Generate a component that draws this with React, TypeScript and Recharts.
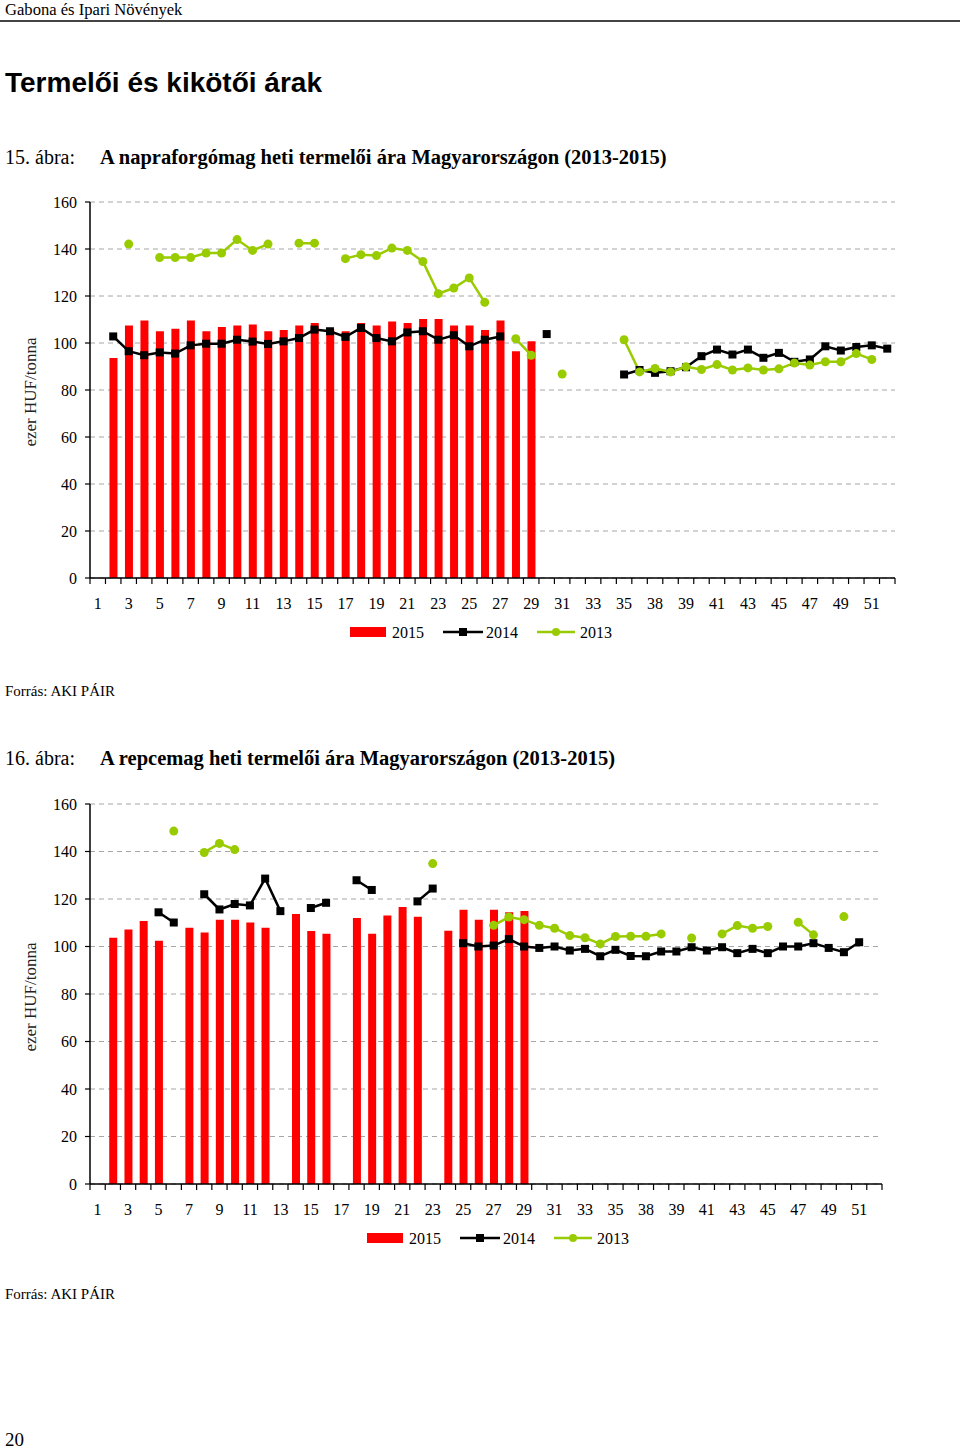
import React from 'react';
import { ComposedChart, Bar, Line, XAxis, YAxis, CartesianGrid } from 'recharts';

// week labels as printed under the axis (the source skips 37 and repeats 38)
const weeks = [
  '1', '2', '3', '4', '5', '6', '7', '8', '9', '10', '11', '12', '13', '14', '15', '16', '17', '18',
  '19', '20', '21', '22', '23', '24', '25', '26', '27', '28', '29', '30', '31', '32', '33', '34', '35',
  '36', '38', '38', '39', '40', '41', '42', '43', '44', '45', '46', '47', '48', '49', '50', '51', '52',
];

const yTicks = [0, 20, 40, 60, 80, 100, 120, 140, 160];

// 15. ábra – napraforgómag (ezer HUF/tonna)
const sun2015 = [
  null, 93.6, 107.4, 109.6, 105, 106.1, 109.6, 105, 106.8, 107.4, 107.9, 105, 105.5, 107.4, 108.5,
  105.8, 105, 108.5, 107.4, 109.1, 108.5, 110.2, 110.2, 107.4, 107.4, 105.5, 109.6, 96.5, 100.7,
  null, null, null, null, null, null, null, null, null, null, null, null, null, null, null, null,
  null, null, null, null, null, null, null,
];
const sun2014 = [
  null, 102.8, 96.5, 94.8, 96, 95.5, 99, 99.7, 99.7, 101.4, 100.6, 99.6, 100.7, 102.1, 105.7, 105,
  102.6, 106.4, 102.1, 100.7, 104.5, 105, 101.4, 103.3, 98.6, 101.4, 102.8, null, null, 103.8, null,
  null, null, null, 86.6, 88.5, 87.3, 88, 89.7, 94.4, 97.2, 95.1, 97.2, 93.7, 95.8, 92, 93, 98.6,
  96.8, 98.3, 99, 97.6,
];
const sun2013 = [
  null, null, 142.1, null, 136.4, 136.4, 136.4, 138.3, 138.3, 144, 139.4, 142.1, null, 142.5, 142.5,
  null, 135.9, 137.6, 137.2, 140.4, 139.4, 134.7, 121, 123.4, 127.7, 117.3, null, 101.8, 94.8, null,
  86.8, null, null, null, 101.4, 87.7, 89.2, 87.7, 89.9, 88.7, 90.8, 88.5, 89.4, 88.5, 89, 91.5, 90.6,
  92, 92, 95.5, 93, null,
];

// 16. ábra – repcemag (ezer HUF/tonna)
const rape2015 = [
  null, 103.7, 107.2, 110.7, 102.4, null, 107.9, 105.9, 111.3, 111.3, 110.1, 107.9, null, 113.7,
  106.5, 105.4, null, 112, 105.4, 113.1, 116.6, 112.5, null, 106.6, 115.5, 111.3, 115.5, 114.4, 114.9,
  null, null, null, null, null, null, null, null, null, null, null, null, null, null, null, null,
  null, null, null, null, null, null, null,
];
const rape2014 = [
  null, null, null, null, 114.4, 110.1, null, 122, 115.6, 117.9, 117.3, 128.6, 114.9, null, 116.2,
  118.4, null, 127.9, 123.8, null, null, 119, 124.4, null, 101.4, 100, 100.4, 103.1, 100, 99.4, 100,
  98.3, 99, 95.9, 98.6, 96, 95.9, 97.9, 97.9, 99.7, 98.3, 99.7, 97.2, 99, 97.2, 100, 100, 101.4, 99.4,
  97.6, 101.8, null,
];
const rape2013 = [
  null, null, null, null, null, 148.6, null, 139.6, 143.4, 140.8, null, null, null, null, null, null,
  null, null, null, null, null, null, 134.9, null, null, null, 108.9, 112.4, 111.3, 108.9, 107.7,
  104.6, 103.7, 101.1, 104.2, 104.3, 104.3, 105.3, null, 103.6, null, 105.3, 108.8, 107.7, 108.4,
  null, 110.2, 104.9, null, 112.6, null, null,
];

const RED = '#ff0000';
const GREEN = '#99cc00';
const SERIF = '"Liberation Serif", "Times New Roman", serif';

const buildRows = (a: (number | null)[], b: (number | null)[], c: (number | null)[]) =>
  weeks.map((w, i) => ({ week: w, y2015: a[i], y2014: b[i], y2013: c[i] }));

const sunRows = buildRows(sun2015, sun2014, sun2013);
const rapeRows = buildRows(rape2015, rape2014, rape2013);

const squareDot = (props: any) => {
  const { cx, cy, index } = props;
  if (cx == null || cy == null || props.value == null) return <g key={'s' + index} />;
  return <rect key={'s' + index} x={cx - 4} y={cy - 4} width={8} height={8} fill="#000" />;
};

const roundDot = (props: any) => {
  const { cx, cy, index } = props;
  if (cx == null || cy == null || props.value == null) return <g key={'c' + index} />;
  return <circle key={'c' + index} cx={cx} cy={cy} r={4.5} fill={GREEN} />;
};

// tick marks sit between the weeks, labels on every second week
const makeTick = (band: number) => (props: any) => {
  const { x, y, payload, index } = props;
  const last = index === weeks.length - 1;
  return (
    <g>
      <line x1={x - band / 2} x2={x - band / 2} y1={y} y2={y + 6} stroke="#000" strokeWidth={1.2} />
      {last && <line x1={x + band / 2} x2={x + band / 2} y1={y} y2={y + 6} stroke="#000" strokeWidth={1.2} />}
      {index % 2 === 0 && (
        <text x={x} y={y + 31} textAnchor="middle" fontSize={16} fontFamily={SERIF} fill="#000">
          {payload.value}
        </text>
      )}
    </g>
  );
};

interface PriceChartProps {
  rows: any[];
  top: number;
  height: number;
  marginTop: number;
  marginRight: number;
}

const PriceChart: React.FC<PriceChartProps> = ({ rows, top, height, marginTop, marginRight }) => {
  const width = 960;
  const left = 90;
  const band = (width - marginRight - left) / weeks.length;
  return (
    <div style={{ position: 'absolute', left: 0, top }}>
      <ComposedChart
        width={width}
        height={height}
        data={rows}
        barCategoryGap={0}
        margin={{ top: marginTop, right: marginRight, left: 40, bottom: 0 }}
      >
        <CartesianGrid vertical={false} stroke="#a6a6a6" strokeDasharray="5 4" />
        <XAxis
          dataKey="week"
          height={52}
          interval={0}
          tickSize={0}
          tickMargin={0}
          tickLine={false}
          axisLine={{ stroke: '#000', strokeWidth: 1.5 }}
          tick={makeTick(band)}
        />
        <YAxis
          width={50}
          domain={[0, 160]}
          ticks={yTicks}
          interval={0}
          tickSize={5}
          tickMargin={8}
          axisLine={{ stroke: '#000', strokeWidth: 1.5 }}
          tickLine={{ stroke: '#000', strokeWidth: 1.2 }}
          tick={{ fontSize: 16, fontFamily: SERIF, fill: '#000' }}
        />
        <Bar dataKey="y2015" fill={RED} barSize={8} isAnimationActive={false} />
        <Line
          dataKey="y2014"
          stroke="#000"
          strokeWidth={2.5}
          dot={squareDot}
          activeDot={false}
          isAnimationActive={false}
        />
        <Line
          dataKey="y2013"
          stroke={GREEN}
          strokeWidth={2.5}
          dot={roundDot}
          activeDot={false}
          isAnimationActive={false}
        />
      </ComposedChart>
    </div>
  );
};

const LegendRow: React.FC<{ left: number; top: number }> = ({ left, top }) => (
  <svg style={{ position: 'absolute', left, top }} width={300} height={22}>
    <rect x={10} y={5} width={36} height={10} fill={RED} />
    <text x={52} y={15.5} fontSize={16} fontFamily={SERIF}>2015</text>
    <line x1={103} x2={143} y1={10} y2={10} stroke="#000" strokeWidth={2.5} />
    <rect x={119} y={6} width={8} height={8} fill="#000" />
    <text x={146} y={15.5} fontSize={16} fontFamily={SERIF}>2014</text>
    <line x1={197} x2={235} y1={10} y2={10} stroke={GREEN} strokeWidth={2.5} />
    <circle cx={216} cy={10} r={4} fill={GREEN} />
    <text x={240} y={15.5} fontSize={16} fontFamily={SERIF}>2013</text>
  </svg>
);

const YLabel: React.FC<{ y: number }> = ({ y }) => (
  <div
    style={{
      position: 'absolute',
      left: 30,
      top: y,
      transform: 'translate(-50%, -50%) rotate(-90deg)',
      whiteSpace: 'nowrap',
      fontSize: 17,
      lineHeight: '17px',
      color: '#222',
    }}
  >
    ezer HUF/tonna
  </div>
);

const txt = (top: number, left: number, size: number, extra: React.CSSProperties = {}) => ({
  position: 'absolute' as const,
  top,
  left,
  fontSize: size,
  lineHeight: size + 'px',
  whiteSpace: 'nowrap' as const,
  ...extra,
});

export default function App() {
  return (
    <div
      style={{
        position: 'absolute',
        left: 0,
        top: 0,
        width: 960,
        height: 1451,
        background: '#fff',
        fontFamily: SERIF,
        color: '#000',
        overflow: 'hidden',
      }}
    >
      <div style={txt(1.5, 5, 16.6)}>Gabona és Ipari Növények</div>
      <div style={{ position: 'absolute', left: 0, top: 20, width: 960, height: 1.5, background: '#444' }} />
      <div style={txt(69, 5, 28, { fontFamily: '"Liberation Sans", Arial, sans-serif', fontWeight: 700 })}>
        Termelői és kikötői árak
      </div>

      <div style={txt(147, 5, 20)}>15. ábra:</div>
      <div style={txt(147, 100, 20.5, { fontWeight: 700 })}>
        A napraforgómag heti termelői ára Magyarországon (2013-2015)
      </div>
      <YLabel y={392} />
      <PriceChart rows={sunRows} top={190} height={440} marginTop={12} marginRight={65} />
      <LegendRow left={340} top={622} />
      <div style={txt(684, 5, 15)}>Forrás: AKI PÁIR</div>

      <div style={txt(748, 5, 20)}>16. ábra:</div>
      <div style={txt(748, 100, 20.5, { fontWeight: 700 })}>
        A repcemag heti termelői ára Magyarországon (2013-2015)
      </div>
      <YLabel y={997} />
      <PriceChart rows={rapeRows} top={790} height={446} marginTop={14} marginRight={78} />
      <LegendRow left={357} top={1228} />
      <div style={txt(1287, 5, 15)}>Forrás: AKI PÁIR</div>

      <div style={txt(1430, 5, 19)}>20</div>
    </div>
  );
}
